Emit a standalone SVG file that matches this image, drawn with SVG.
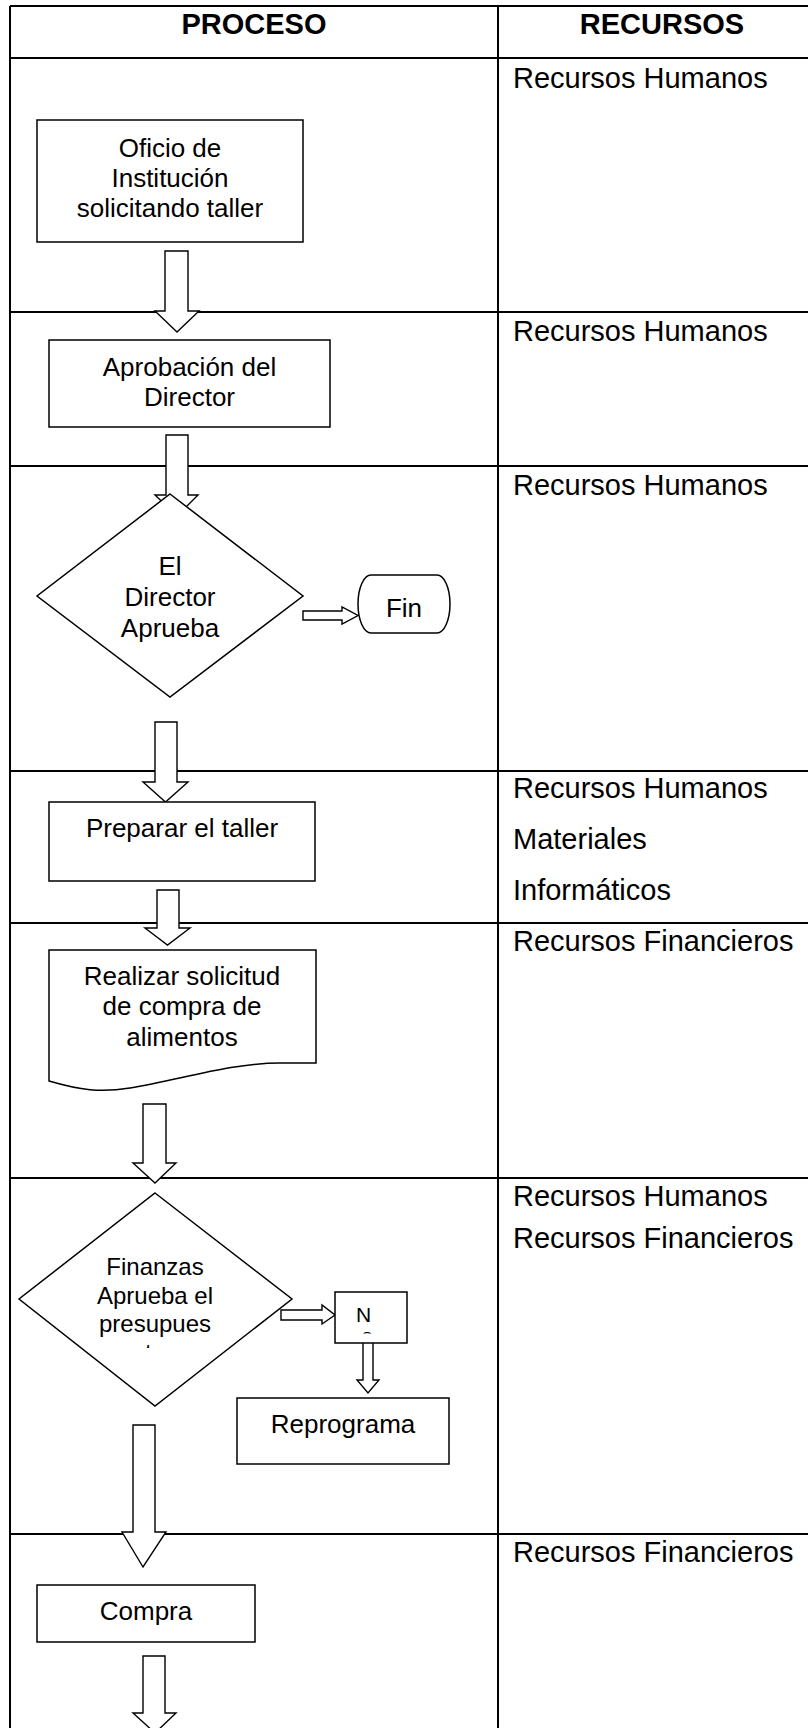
<svg xmlns="http://www.w3.org/2000/svg" width="808" height="1728" viewBox="0 0 808 1728">
<style>
.tbl{stroke:#000;stroke-width:2;fill:none}
.shape{fill:#fff;stroke:#000;stroke-width:1.5}
.arr{fill:#fff;stroke:#000;stroke-width:1.4;stroke-linejoin:miter}
text{font-family:"Liberation Sans",Arial,sans-serif;fill:#000}
.hdr{font-size:29px;font-weight:bold;text-anchor:middle}
.res{font-size:29px}
.lbl{font-size:26px;text-anchor:middle}
.sm{font-size:24px;text-anchor:middle}
</style>
<defs>
<clipPath id="clipTo"><rect x="60" y="1200" width="200" height="148"/></clipPath>
<clipPath id="clipO"><rect x="340" y="1295" width="60" height="38.5"/></clipPath>
</defs>
<rect x="0" y="0" width="808" height="1728" fill="#fff"/>
<g id="table">
<path class="tbl" d="M10,6 H808 M10,6 V1728 M498,6 V1728 M10,58 H808 M10,312 H808 M10,466 H808 M10,771 H808 M10,923 H808 M10,1178 H808 M10,1534 H808"/>
<text class="hdr" x="254" y="34">PROCESO</text>
<text class="hdr" x="662" y="34">RECURSOS</text>
<text class="res" x="513" y="88">Recursos Humanos</text>
<text class="res" x="513" y="341">Recursos Humanos</text>
<text class="res" x="513" y="495">Recursos Humanos</text>
<text class="res" x="513" y="798">Recursos Humanos</text>
<text class="res" x="513" y="849">Materiales</text>
<text class="res" x="513" y="900">Informáticos</text>
<text class="res" x="513" y="951">Recursos Financieros</text>
<text class="res" x="513" y="1206">Recursos Humanos</text>
<text class="res" x="513" y="1248">Recursos Financieros</text>
<text class="res" x="513" y="1562">Recursos Financieros</text>
</g>
<g id="connectors">
<polygon class="arr" points="165,251 188,251 188,311 199,311 177,332 155,311 165,311"/>
<polygon class="arr" points="166,435 188,435 188,495 198,495 177,516 155,495 166,495"/>
<polygon class="arr" points="155,722 177,722 177,782 188,782 165.5,802 143,782 155,782"/>
<polygon class="arr" points="157,890 179,890 179,928 190,928 167.5,945 145,928 157,928"/>
<polygon class="arr" points="143,1104 166,1104 166,1163 176,1163 155,1183 133,1163 143,1163"/>
<polygon class="arr" points="133,1425 155,1425 155,1532 166,1532 143,1567 122,1532 133,1532"/>
<polygon class="arr" points="143,1656 165,1656 165,1713 176,1713 155,1733 133,1713 143,1713"/>
<polygon class="arr" points="303,611 342,611 342,607 358,615.5 342,624 342,620 303,620"/>
<polygon class="arr" points="281,1310 322,1310 322,1305 335,1315 322,1324 322,1320 281,1320"/>
<polygon class="arr" points="363,1342 373,1342 373,1380 379,1380 368,1393 357,1380 363,1380"/>
</g>
<g id="n-oficio">
<rect class="shape" x="37" y="120" width="266" height="122"/>
<text class="lbl" x="170" y="157">Oficio de</text>
<text class="lbl" x="170" y="187">Institución</text>
<text class="lbl" x="170" y="217">solicitando taller</text>
</g>
<g id="n-aprobacion">
<rect class="shape" x="49" y="340" width="281" height="87"/>
<text class="lbl" x="189.5" y="376">Aprobación del</text>
<text class="lbl" x="189.5" y="406">Director</text>
</g>
<g id="n-director-aprueba">
<polygon class="shape" points="170,494 303,596 170,697 37,596"/>
<text class="lbl" x="170" y="575">El</text>
<text class="lbl" x="170" y="606">Director</text>
<text class="lbl" x="170" y="637">Aprueba</text>
</g>
<g id="n-fin">
<rect class="shape" x="358" y="575" width="92" height="58" rx="13" ry="29"/>
<text class="lbl" x="404" y="617">Fin</text>
</g>
<g id="n-preparar">
<rect class="shape" x="49" y="802" width="266" height="79"/>
<text class="lbl" x="182" y="837">Preparar el taller</text>
</g>
<g id="n-solicitud">
<path class="shape" d="M49,950 L316,950 L316,1063 L280,1063 C230,1063 180,1080 130,1088 C100,1093 80,1090 49,1081 Z"/>
<text class="lbl" x="182" y="985">Realizar solicitud</text>
<text class="lbl" x="182" y="1015">de compra de</text>
<text class="lbl" x="182" y="1046">alimentos</text>
</g>
<g id="n-finanzas">
<polygon class="shape" points="155,1193 292,1299 155,1406 19,1299"/>
<text class="sm" x="155" y="1275">Finanzas</text>
<text class="sm" x="155" y="1304">Aprueba el</text>
<text class="sm" x="155" y="1332">presupues</text>
<text class="sm" x="155" y="1361" clip-path="url(#clipTo)">to</text>
</g>
<g id="n-no">
<rect class="shape" x="335" y="1292" width="72" height="51"/>
<text x="363.5" y="1322" style="font-size:21px;text-anchor:middle">N</text>
<text x="367" y="1343" style="font-size:21px;text-anchor:middle" clip-path="url(#clipO)">o</text>
</g>
<g id="n-reprograma">
<rect class="shape" x="237" y="1398" width="212" height="66"/>
<text class="lbl" x="343" y="1433">Reprograma</text>
</g>
<g id="n-compra">
<rect class="shape" x="37" y="1585" width="218" height="57"/>
<text class="lbl" x="146" y="1620">Compra</text>
</g>
</svg>
